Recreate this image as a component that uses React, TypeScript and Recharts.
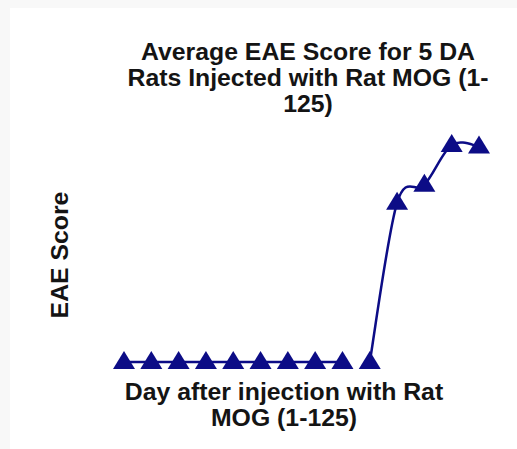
import { LineChart, Line, XAxis, YAxis } from 'recharts';

// day after injection and the average EAE score
const days = [1, 2, 3, 4, 5, 6, 7, 8, 9, 10, 11, 12, 13, 14];
const scores = [0, 0, 0, 0, 0, 0, 0, 0, 0, 0, 2.2, 2.45, 3, 2.98];
// the plotted line is broken between day 9 and day 10
const breakAfterDay = 9;

const titleLines = ['Average EAE Score for 5 DA', 'Rats Injected with Rat MOG (1-', '125)'];
const xLabelLines = ['Day after injection with Rat', 'MOG (1-125)'];
const yLabel = 'EAE Score';

const navy = '#0c0c86';
const textColor = '#141414';
const font = '"Liberation Sans", Arial, sans-serif';

const chartData = days.map((day, i) => ({
  day,
  early: day <= breakAfterDay ? scores[i] : null,
  late: day > breakAfterDay ? scores[i] : null,
}));

// Excel-like smoothed line (Catmull-Rom through every point)
function smoothCurve(context: any) {
  let pts: number[][] = [];
  return {
    areaStart() {},
    areaEnd() {},
    lineStart() {
      pts = [];
    },
    point(x: number, y: number) {
      pts.push([+x, +y]);
    },
    lineEnd() {
      if (!pts.length) return;
      context.moveTo(pts[0][0], pts[0][1]);
      for (let i = 0; i < pts.length - 1; i++) {
        const p0 = pts[Math.max(i - 1, 0)];
        const p1 = pts[i];
        const p2 = pts[i + 1];
        const p3 = pts[Math.min(i + 2, pts.length - 1)];
        context.bezierCurveTo(
          p1[0] + (p2[0] - p0[0]) / 6,
          p1[1] + (p2[1] - p0[1]) / 6,
          p2[0] - (p3[0] - p1[0]) / 6,
          p2[1] - (p3[1] - p1[1]) / 6,
          p2[0],
          p2[1],
        );
      }
    },
  };
}

function TriangleDot(props: any) {
  const { cx, cy, index } = props;
  if (cx == null || cy == null || Number.isNaN(cy)) return <g key={`n-${index}`} />;
  return (
    <polygon
      key={`t-${index}`}
      points={`${cx},${cy - 11} ${cx + 11},${cy + 7} ${cx - 11},${cy + 7}`}
      fill={navy}
    />
  );
}

const textBlock = {
  position: 'absolute' as const,
  fontFamily: font,
  fontWeight: 700,
  fontSize: 24.8,
  lineHeight: '26px',
  color: textColor,
  textAlign: 'center' as const,
  whiteSpace: 'nowrap' as const,
};

export default function App() {
  return (
    <div style={{ position: 'fixed', inset: 0, background: '#f8f8f8' }}>
      <div
        style={{
          position: 'absolute',
          left: 10,
          top: 8,
          width: 507,
          height: 441,
          background: '#ffffff',
          overflow: 'hidden',
        }}
      >
        <LineChart
          width={507}
          height={441}
          data={chartData}
          margin={{ top: 137, right: 38, bottom: 87, left: 114 }}
        >
          <XAxis dataKey="day" type="number" domain={[1, 14]} hide />
          <YAxis type="number" domain={[0, 3]} hide />
          <Line
            dataKey="early"
            type={smoothCurve as any}
            stroke={navy}
            strokeWidth={2.5}
            dot={TriangleDot}
            activeDot={false}
            isAnimationActive={false}
          />
          <Line
            dataKey="late"
            type={smoothCurve as any}
            stroke={navy}
            strokeWidth={2.5}
            dot={TriangleDot}
            activeDot={false}
            isAnimationActive={false}
          />
        </LineChart>

        <div style={{ ...textBlock, left: 98, top: 31, width: 400 }}>
          {titleLines.map((line) => (
            <div key={line}>{line}</div>
          ))}
        </div>

        <div style={{ ...textBlock, left: 74, top: 371, width: 400 }}>
          {xLabelLines.map((line) => (
            <div key={line}>{line}</div>
          ))}
        </div>

        <div
          style={{
            ...textBlock,
            left: -50,
            top: 232,
            width: 200,
            lineHeight: '30px',
            height: 30,
            transform: 'rotate(-90deg)',
          }}
        >
          {yLabel}
        </div>
      </div>
    </div>
  );
}
